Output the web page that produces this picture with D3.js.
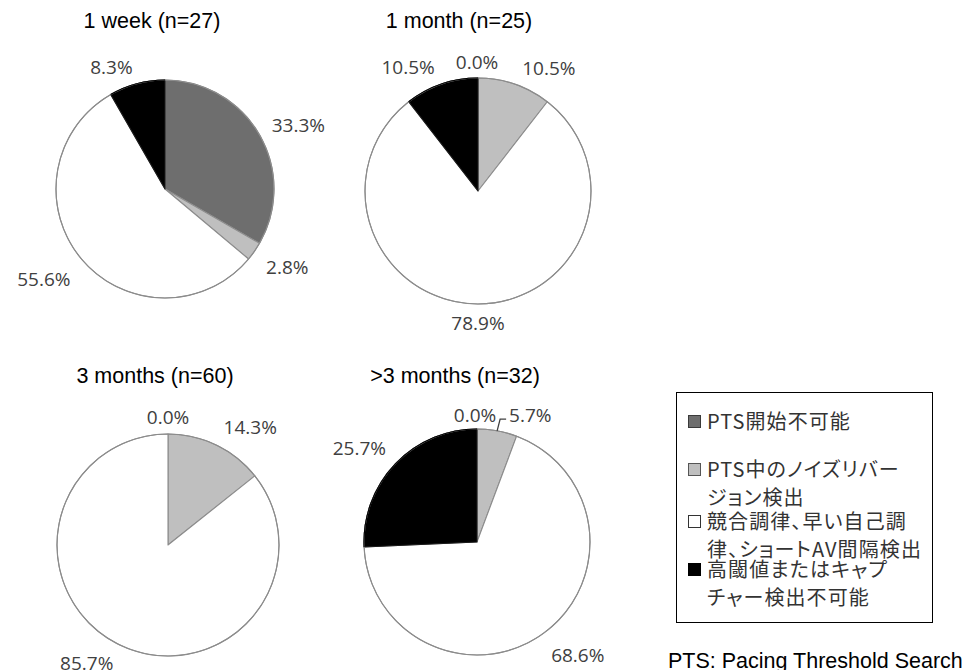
<!DOCTYPE html>
<html>
<head>
<meta charset="utf-8">
<script src="https://cdn.jsdelivr.net/npm/d3@7"></script>
<style>
  html, body { margin: 0; padding: 0; background: #ffffff; }
  svg { display: block; }
  .legend-text { font-feature-settings: "palt" 1; }
</style>
</head>
<body>
<svg id="chart" width="968" height="670"></svg>
<script>
// Detection outcome categories (shared by all four pies)
const categories = [
  "PTS開始不可能",
  "PTS中のノイズリバージョン検出",
  "競合調律、早い自己調律、ショートAV間隔検出",
  "高閾値またはキャプチャー検出不可能"
];
// Legend text as wrapped inside the legend box
const legendLines = [
  ["PTS開始不可能"],
  ["PTS中のノイズリバー", "ジョン検出"],
  ["競合調律、早い自己調", "律、ショートAV間隔検出"],
  ["高閾値またはキャプ", "チャー検出不可能"]
];
const periods = ["1 week (n=27)", "1 month (n=25)", "3 months (n=60)", ">3 months (n=32)"];

// Percentages per period, in category order
const week1       = [33.3, 2.8, 55.6, 8.3];
const month1      = [0.0, 10.5, 78.9, 10.5];
const months3     = [0.0, 14.3, 85.7, 0.0];
const monthsOver3 = [0.0, 5.7, 68.6, 25.7];
const seriesList = [week1, month1, months3, monthsOver3];

const footnote = "PTS: Pacing Threshold Search";

// Fills per category
const fills = ["#6e6e6e", "#bfbfbf", "#ffffff", "#000000"];
const swatchStroke = ["#3a3a3a", "#555555", "#333333", "#000000"];

// Placement of each pie and its label nudges
const panels = [
  { cx: 165, cy: 189, r: 109, tx: 152, ty: 28,
    nudge: [[9, 0], [9, 6], [-11, 9], [-18, 1]], hide: [], leader: [] },
  { cx: 478, cy: 191, r: 113, tx: 459, ty: 28,
    nudge: [[-1, 2], [23, 1], [0, 1], [-22, 0]], hide: [], leader: [] },
  { cx: 168, cy: 545, r: 111, tx: 155, ty: 383,
    nudge: [[0, 1], [19, -1], [-18, 2], [0, 0]], hide: [3], leader: [] },
  { cx: 477, cy: 542, r: 113, tx: 455, ty: 383,
    nudge: [[-2, 4], [28, 2], [14, 7], [-11, -3.5]], hide: [], leader: [1] }
];

const svg = d3.select("#chart");
const fmt = d3.format(".1f");
const pie = d3.pie().sort(null).value(d => d);

seriesList.forEach((values, i) => {
  const p = panels[i];
  const g = svg.append("g").attr("transform", `translate(${p.cx},${p.cy})`);
  const arc = d3.arc().innerRadius(0).outerRadius(p.r);
  const arcs = pie(values);

  g.selectAll("path.slice")
    .data(arcs.filter(a => a.value > 0))
    .join("path")
    .attr("class", "slice")
    .attr("d", arc)
    .attr("fill", a => fills[a.index])
    .attr("stroke", a => a.index === 3 ? "#1a1a1a" : "#8c8c8c")
    .attr("stroke-width", 1.1)
    .attr("stroke-linejoin", "round");

  // Outer rim drawn once on top so the circle edge stays uniform
  g.append("circle")
    .attr("r", p.r)
    .attr("fill", "none")
    .attr("stroke", "#8c8c8c")
    .attr("stroke-width", 1.1);
  // Keep the black wedge edge dark
  arcs.filter(a => a.index === 3 && a.value > 0).forEach(a => {
    g.append("path")
      .attr("d", d3.arc().innerRadius(p.r).outerRadius(p.r)(a))
      .attr("fill", "none")
      .attr("stroke", "#000")
      .attr("stroke-width", 1.1);
  });

  // Title
  svg.append("text")
    .attr("x", p.tx)
    .attr("y", p.ty)
    .attr("text-anchor", "middle")
    .attr("font-family", "'Liberation Sans', Arial, sans-serif")
    .attr("font-weight", "normal")
    .attr("font-size", 21.5)
    .attr("fill", "#000")
    .text(periods[i]);

  // Percentage labels placed just outside each wedge
  const pad = 8, boxH = 20;
  arcs.forEach(a => {
    if (p.hide.includes(a.index)) return;
    const mid = (a.startAngle + a.endAngle) / 2;
    const s = Math.sin(mid), c = -Math.cos(mid);
    const t = g.append("text")
      .attr("text-anchor", "middle")
      .attr("dy", "0.35em")
      .attr("font-family", "'Open Sans', sans-serif")
      .attr("font-size", 19)
      .attr("fill", "#404040")
      .text(fmt(a.value) + "%");
    const w = t.node().getComputedTextLength();
    const px = (p.r + pad) * s, py = (p.r + pad) * c;
    const lx = px + (w / 2) * s + p.nudge[a.index][0];
    const ly = py + (boxH / 2) * c + p.nudge[a.index][1];
    t.attr("x", lx).attr("y", ly);

    if (p.leader.includes(a.index)) {
      const ax = p.r * s, ay = p.r * c;
      const ey = ly + 4;
      g.append("path")
        .attr("d", d3.line()([[ax, ay], [ax + 3, ey], [lx - w / 2 - 3, ey]]))
        .attr("fill", "none")
        .attr("stroke", "#404040")
        .attr("stroke-width", 1.3);
    }
  });
});

// Legend
const legend = svg.append("g");
legend.append("rect")
  .attr("x", 676.5).attr("y", 392.5)
  .attr("width", 256).attr("height", 230)
  .attr("fill", "#fff")
  .attr("stroke", "#000")
  .attr("stroke-width", 1);

const itemY = [422, 470, 522, 570];
const lineGap = 28;
categories.forEach((cat, k) => {
  legend.append("rect")
    .attr("x", 688.5).attr("y", itemY[k] - 6.5)
    .attr("width", 12).attr("height", 12)
    .attr("fill", fills[k])
    .attr("stroke", swatchStroke[k])
    .attr("stroke-width", 1);
  legendLines[k].forEach((line, j) => {
    legend.append("text")
      .attr("class", "legend-text")
      .attr("x", 707)
      .attr("y", itemY[k] + j * lineGap)
      .attr("dy", "0.35em")
      .attr("font-family", "'Noto Sans CJK JP', sans-serif")
      .attr("font-size", 20)
      .attr("letter-spacing", 1.1)
      .attr("fill", "#333")
      .text(line);
  });
});

// Footnote
svg.append("text")
  .attr("x", 668)
  .attr("y", 668)
  .attr("font-family", "'Liberation Sans', Arial, sans-serif")
  .attr("font-size", 21.5)
  .attr("fill", "#000")
  .text(footnote);
</script>
</body>
</html>
